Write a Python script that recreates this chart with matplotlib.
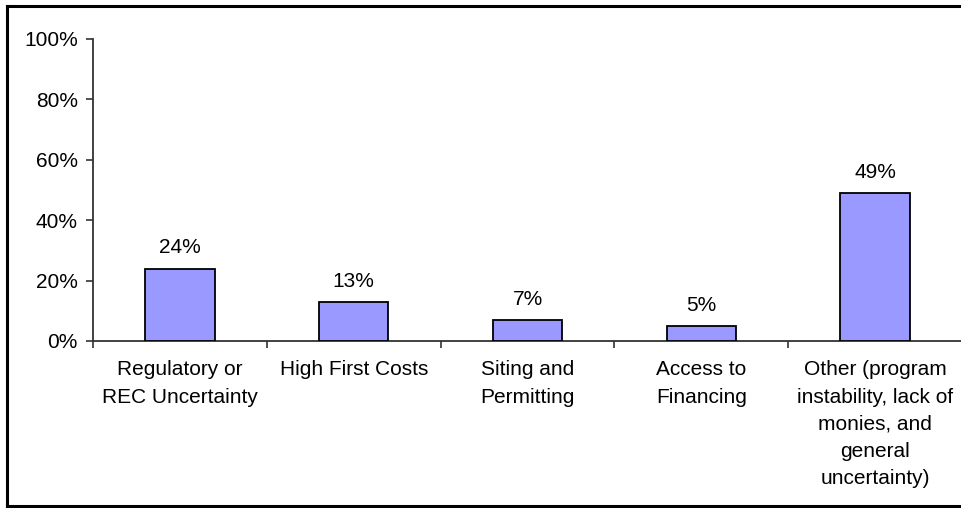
import matplotlib
matplotlib.use("Agg")
import matplotlib.pyplot as plt
from matplotlib.lines import Line2D

categories = [
    "Regulatory or\nREC Uncertainty",
    "High First Costs",
    "Siting and\nPermitting",
    "Access to\nFinancing",
    "Other (program\ninstability, lack of\nmonies, and\ngeneral\nuncertainty)",
]
shares = [24, 13, 7, 5, 49]
value_labels = ["24%", "13%", "7%", "5%", "49%"]
y_ticks = [0, 20, 40, 60, 80, 100]

plt.rcParams["font.family"] = ["Liberation Sans", "DejaVu Sans"]
plt.rcParams["font.size"] = 15

fig = plt.figure(figsize=(9.61, 5.08), dpi=100)
ax = fig.add_axes([93 / 961, 1 - 341 / 508, 869 / 961, 302 / 508])

x = range(len(categories))
ax.bar(x, shares, width=0.4, color="#9999FF", edgecolor="black", linewidth=1.3, zorder=3)

for i, (v, lab) in enumerate(zip(shares, value_labels)):
    ax.annotate(lab, (i, v), xytext=(0, 8), textcoords="offset points",
                ha="center", va="bottom", color="black")

ax.set_xlim(-0.5, len(categories) - 0.5)
ax.set_ylim(0, 100)
ax.set_yticks(y_ticks)
ax.set_yticklabels([f"{t}%" for t in y_ticks])

# category labels sit at the centres, tick marks at the boundaries
ax.set_xticks(list(x))
ax.set_xticklabels(categories, linespacing=1.55, va="top")
ax.tick_params(axis="x", which="major", length=0, pad=14)
ax.set_xticks([i - 0.5 for i in range(len(categories) + 1)], minor=True)
ax.tick_params(axis="x", which="minor", length=5, width=1.2, direction="out", color="#333333")
ax.tick_params(axis="y", length=5, width=1.2, direction="out", color="#333333", pad=6)

for side in ["top", "right"]:
    ax.spines[side].set_visible(False)
for side in ["left", "bottom"]:
    ax.spines[side].set_linewidth(1.3)
    ax.spines[side].set_color("#333333")

# chart area border (left, top, bottom)
border = dict(color="black", linewidth=2.2, transform=fig.transFigure)
l, t, b = 6.5 / 961, 1 - 5.5 / 508, 1 - 506 / 508
fig.add_artist(Line2D([l, l], [b, t], **border))
fig.add_artist(Line2D([l, 1.01], [t, t], **border))
fig.add_artist(Line2D([l, 1.01], [b, b], **border))

fig.savefig("out.png", dpi=100)
